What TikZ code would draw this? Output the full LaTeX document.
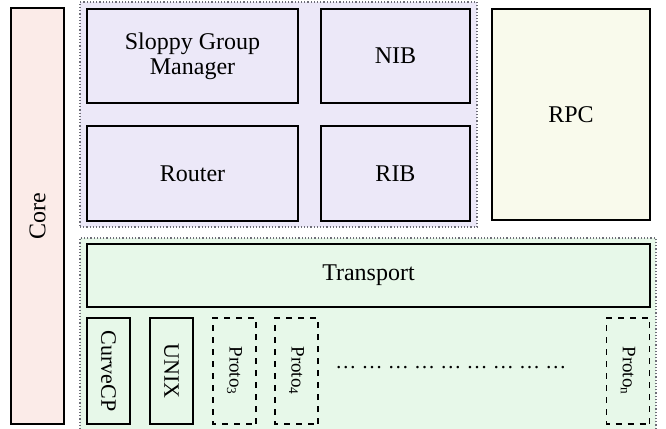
\documentclass[tikz,border=0pt]{standalone}
\usepackage{fontspec}
\setmainfont{Liberation Serif}
\usepackage{tikz}
\usetikzlibrary{positioning}
\definecolor{corefill}{RGB}{251,235,232}
\definecolor{upperfill}{RGB}{236,232,248}
\definecolor{rpcfill}{RGB}{249,250,236}
\definecolor{lowerfill}{RGB}{231,248,233}
\definecolor{groupline}{RGB}{110,110,120}
\tikzset{
  block/.style={rectangle, draw=black, thick, text centered, align=center, font=\rmfamily\fontsize{12}{12.5}\selectfont},
  group/.style={rectangle, draw=groupline, densely dotted, line width=0.6pt},
  protobox/.style={block, rotate=-90, minimum width=53pt, minimum height=21.5pt, font=\rmfamily\fontsize{11}{12}\selectfont},
  spare/.style={protobox, dashed, font=\rmfamily\fontsize{9.5}{11}\selectfont}
}
\begin{document}
\begin{tikzpicture}[x=0.5pt, y=-0.5pt]
            \useasboundingbox (0,0) rectangle (666,429);
            \clip (0,0) rectangle (666,429);

            % Core
            \node[block, fill=corefill, rotate=90, minimum width=208pt, minimum height=26.5pt] (core) at (37.5, 216) {Core};

            % Upper group
            \node[group, fill=upperfill, minimum width=198.5pt, minimum height=112.5pt] (upper) at (278.5, 114.5) {};
            \node[block, fill=upperfill, minimum width=105.5pt, minimum height=47pt] (sgm) at (192.5, 56) {Sloppy Group\\Manager};
            \node[block, fill=upperfill, minimum width=105.5pt, minimum height=47.5pt] (router) at (192.5, 173.5) {Router};
            \node[block, fill=upperfill, minimum width=74.5pt, minimum height=47pt] (nib) at (395.5, 56) {NIB};
            \node[block, fill=upperfill, minimum width=74.5pt, minimum height=47.5pt] (rib) at (395.5, 173.5) {RIB};

            % RPC
            \node[block, fill=rpcfill, minimum width=79pt, minimum height=105.5pt] (rpc) at (571, 114.5) {RPC};

            % Lower group
            \node[group, fill=lowerfill, minimum width=288pt, minimum height=97pt] (lower) at (368, 335) {};
            \node[block, fill=lowerfill, minimum width=281.5pt, minimum height=31.5pt] (transport) at (368.5, 275.5) {Transport};

            % Protocols
            \node[protobox, fill=lowerfill] (curvecp) at (108.5, 371) {CurveCP};
            \node[protobox, fill=lowerfill] (unix) at (171.5, 371) {UNIX};
            \node[spare, fill=lowerfill] (proto3) at (234.5, 371) {Proto\textsubscript{3}};
            \node[spare, fill=lowerfill] (proto4) at (296.5, 371) {Proto\textsubscript{4}};
            \node[spare, fill=lowerfill] (proton) at (628, 371) {Proto\textsubscript{n}};

            % Dots
            \node[font=\rmfamily\fontsize{10.5}{12}\selectfont] (dots) at (451, 368) {\dots\ \dots\ \dots\ \dots\ \dots\ \dots\ \dots\ \dots\ \dots};

        \end{tikzpicture}
\end{document}
